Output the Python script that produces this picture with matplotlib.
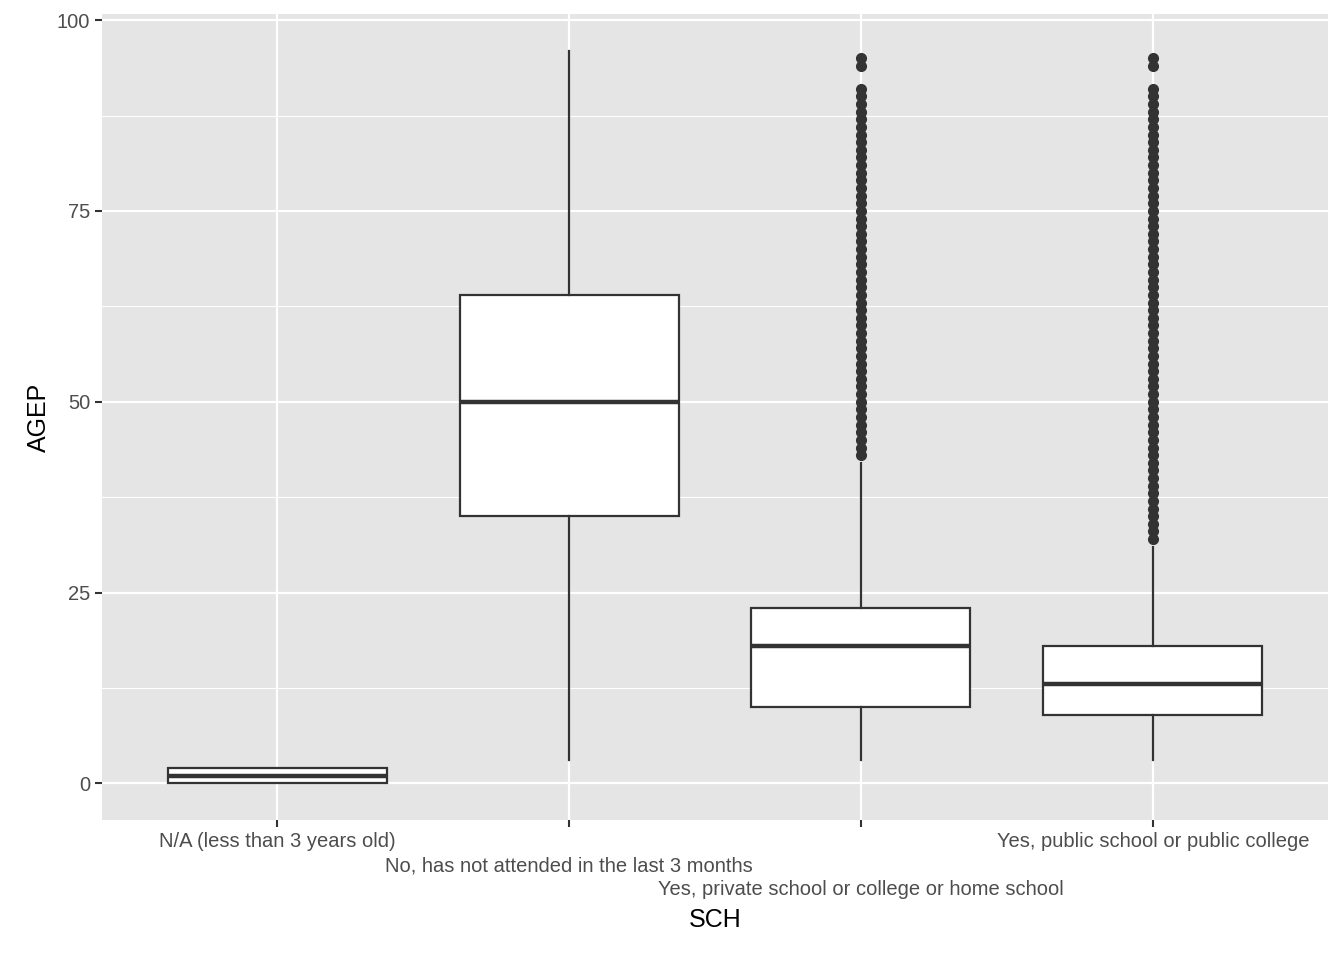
import matplotlib
matplotlib.use('Agg')
import matplotlib.pyplot as plt

plt.rcParams['font.family'] = ['Liberation Sans', 'DejaVu Sans']

# Data
categories = ['N/A (less than 3 years old)',
              'No, has not attended in the last 3 months',
              'Yes, private school or college or home school',
              'Yes, public school or public college']
q1 = [0, 35, 10, 9]
med = [1, 50, 18, 13]
q3 = [2, 64, 23, 18]
wlo = [0, 3, 3, 3]
whi = [2, 96, 42, 31]
out3 = list(range(43, 92)) + [94, 95]
out4 = list(range(32, 92)) + [94, 95]
outliers = [[], [], out3, out4]

stats = []
for i, c in enumerate(categories):
    stats.append({'label': c, 'q1': q1[i], 'med': med[i], 'q3': q3[i],
                  'whislo': wlo[i], 'whishi': whi[i], 'fliers': outliers[i]})

fig = plt.figure(figsize=(13.44, 9.6), dpi=100)
ax = fig.add_axes([102 / 1344, 140 / 960, 1226 / 1344, 806 / 960])
ax.set_facecolor('#E5E5E5')
ax.set_axisbelow(True)

dark = '#333333'
ax.bxp(stats, positions=[1, 2, 3, 4], widths=0.75, patch_artist=True, showcaps=False,
       boxprops=dict(facecolor='white', edgecolor=dark, linewidth=1.6),
       medianprops=dict(color=dark, linewidth=3.2),
       whiskerprops=dict(color=dark, linewidth=1.6),
       flierprops=dict(marker='o', markerfacecolor=dark, markeredgecolor=dark, markersize=7))

ax.set_xlim(0.4, 4.6)
ax.set_ylim(-4.8, 100.8)
ax.set_yticks([0, 25, 50, 75, 100])
ax.set_yticks([12.5, 37.5, 62.5, 87.5], minor=True)
ax.grid(which='major', color='white', linewidth=1.6)
ax.grid(which='minor', axis='y', color='white', linewidth=0.8)
ax.tick_params(which='minor', length=0)
for s in ax.spines.values():
    s.set_visible(False)

ax.set_xticks([1, 2, 3, 4])
ax.set_xticklabels([categories[0], '\n' + categories[1], '\n\n' + categories[2], categories[3]],
                   linespacing=1.35)
ax.tick_params(axis='both', which='major', colors='#333333', labelsize=14.5, length=5, width=1.5)
ax.tick_params(axis='both', labelcolor='#4D4D4D')
ax.set_xlabel('SCH', fontsize=18, labelpad=6)
ax.set_ylabel('AGEP', fontsize=18)

fig.savefig('out.png', dpi=100)
